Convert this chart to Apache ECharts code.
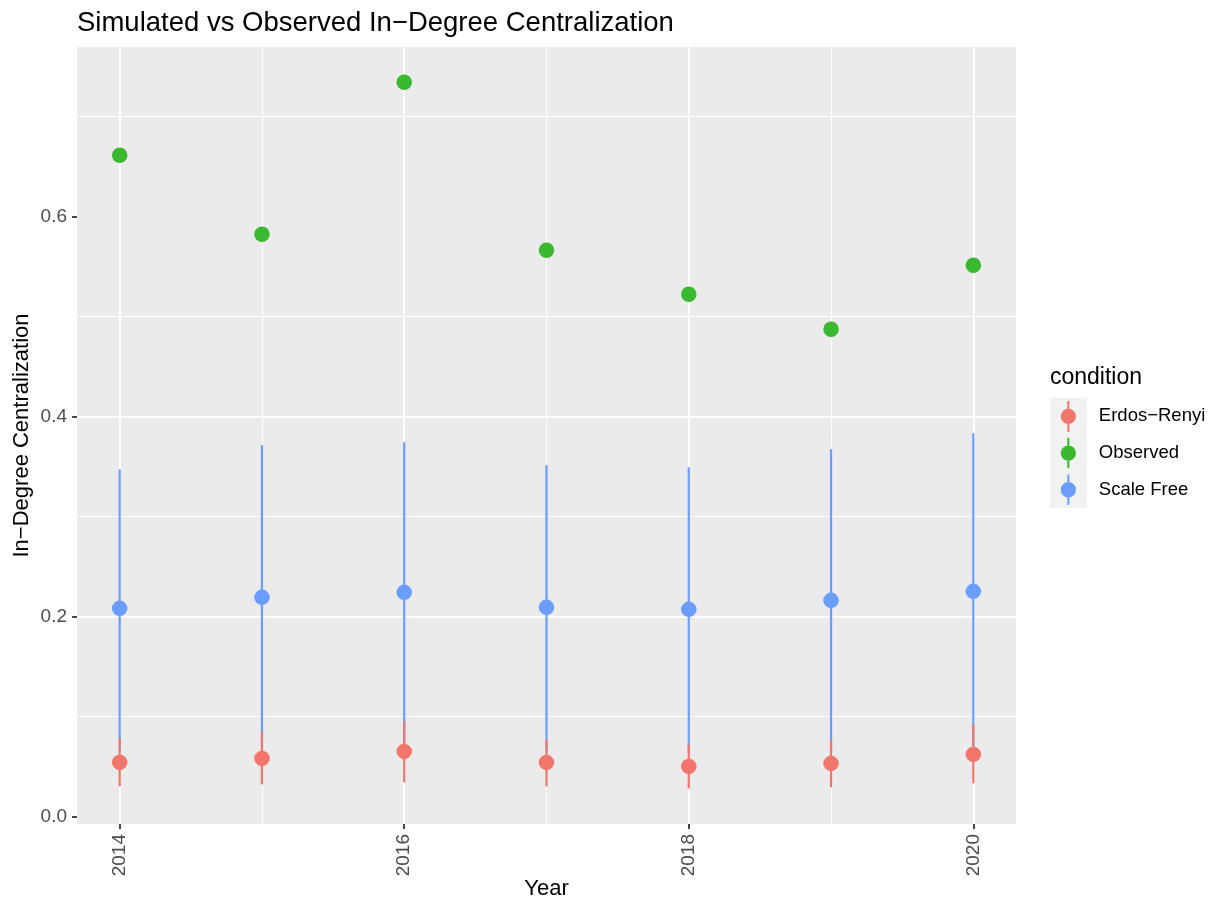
<!DOCTYPE html>
<html>
<head>
<meta charset="utf-8">
<script src="https://cdn.jsdelivr.net/npm/echarts@6/dist/echarts.min.js"></script>
<style>
html,body{margin:0;padding:0;background:#fff;}
#chart{width:1215px;height:903px;}
</style>
</head>
<body>
<div id="chart"></div>
<script>
// ---- data ----
var years = [2014, 2015, 2016, 2017, 2018, 2019, 2020];
var observed = [0.661, 0.582, 0.734, 0.566, 0.522, 0.487, 0.551];
var erMean = [0.054, 0.058, 0.065, 0.054, 0.050, 0.053, 0.062];
var erLow  = [0.030, 0.032, 0.034, 0.030, 0.028, 0.029, 0.033];
var erHigh = [0.078, 0.084, 0.095, 0.077, 0.072, 0.076, 0.092];
var sfMean = [0.208, 0.219, 0.224, 0.209, 0.207, 0.216, 0.225];
var sfLow  = [0.066, 0.068, 0.070, 0.066, 0.064, 0.066, 0.070];
var sfHigh = [0.347, 0.371, 0.374, 0.351, 0.349, 0.367, 0.383];
var xTicks = [2014, 2016, 2018, 2020];
var yTicks = [0, 0.2, 0.4, 0.6];
var conditions = ['Erdos\u2212Renyi', 'Observed', 'Scale Free'];

var colors = {'Erdos\u2212Renyi': '#F2766C', 'Observed': '#3AB82F', 'Scale Free': '#6A9DFF'};
var FONT = '"Liberation Sans", Arial, sans-serif';

function pts(vals) { return years.map(function (y, i) { return [y, vals[i]]; }); }
function ranges(lo, hi) { return years.map(function (y, i) { return [y, lo[i], hi[i]]; }); }

function rangeSeries(name, lo, hi) {
  var c = colors[name];
  return {
    type: 'custom', name: name,
    itemStyle: {color: c},
    data: ranges(lo, hi),
    encode: {x: 0, y: [1, 2]},
    z: 2,
    renderItem: function (params, api) {
      var p1 = api.coord([api.value(0), api.value(1)]);
      var p2 = api.coord([api.value(0), api.value(2)]);
      return {type: 'line', shape: {x1: p1[0], y1: p1[1], x2: p2[0], y2: p2[1]},
              style: {stroke: c, lineWidth: 2.2}};
    }
  };
}
function pointSeries(name, vals) {
  return {
    type: 'scatter', name: name, data: pts(vals),
    symbol: 'circle', symbolSize: 15.5, z: 3,
    itemStyle: {color: colors[name], opacity: 1}
  };
}

var icon = 'path://M0,0Z M36,36Z M17,3 L19,3 L19,10.5 L17,10.5 Z M17,25.5 L19,25.5 L19,33 L17,33 Z M10.5,18 A7.5,7.5 0 1 1 25.5,18 A7.5,7.5 0 1 1 10.5,18 Z';

var chart = echarts.init(document.getElementById('chart'), null, {renderer: 'canvas'});
chart.setOption({
  animation: false,
  backgroundColor: '#ffffff',
  textStyle: {fontFamily: FONT},
  title: [
    {text: 'Simulated vs Observed In\u2212Degree Centralization', left: 72, top: 4,
     textStyle: {fontFamily: FONT, fontSize: 27.5, fontWeight: 'normal', color: '#000'}},
    {text: 'condition', left: 1045, top: 361,
     textStyle: {fontFamily: FONT, fontSize: 23, fontWeight: 'normal', color: '#000'}}
  ],
  graphic: [{type: 'rect', left: 1050, top: 398, shape: {width: 37, height: 110},
             style: {fill: '#F2F2F2'}, z: -1, silent: true}],
  legend: {
    orient: 'vertical', left: 1050, top: 398,
    itemWidth: 37, itemHeight: 36.7, itemGap: 0, padding: 0,
    selectedMode: false,
    textStyle: {fontFamily: FONT, fontSize: 18.5, color: '#000', padding: [0, 0, 0, 7]},
    data: conditions.map(function (n) { return {name: n, icon: icon}; })
  },
  grid: {left: 77, top: 47, right: 199, bottom: 79, show: true,
         backgroundColor: '#EBEBEB', borderWidth: 0, containLabel: false,
         outerBoundsMode: 'none'},
  xAxis: {
    type: 'value', min: 2013.7, max: 2020.3, splitNumber: 3,
    name: 'Year', nameLocation: 'middle', nameGap: 54, nameMoveOverlap: false,
    nameTextStyle: {fontFamily: FONT, fontSize: 22, color: '#000'},
    axisLine: {show: false, onZero: false},
    axisTick: {show: true, length: 5, lineStyle: {color: '#333333', width: 1.8}, customValues: xTicks},
    axisLabel: {rotate: 90, margin: 10, fontSize: 19, color: '#4D4D4D', fontFamily: FONT,
                customValues: xTicks, formatter: function (v) { return String(v); }},
    splitLine: {show: true, showMinLine: true, showMaxLine: true, lineStyle: {color: '#FFFFFF', width: 2}},
    minorTick: {show: false, splitNumber: 2},
    minorSplitLine: {show: true, lineStyle: {color: '#FFFFFF', width: 1}}
  },
  yAxis: {
    type: 'value', min: -0.0076, max: 0.7693, splitNumber: 4,
    name: 'In\u2212Degree Centralization', nameLocation: 'middle', nameGap: 44, nameMoveOverlap: false,
    nameTextStyle: {fontFamily: FONT, fontSize: 22, color: '#000'},
    axisLine: {show: false, onZero: false},
    axisTick: {show: true, length: 5, lineStyle: {color: '#333333', width: 1.8}, customValues: yTicks},
    axisLabel: {margin: 10, fontSize: 19, color: '#4D4D4D', fontFamily: FONT,
                customValues: yTicks, formatter: function (v) { return v.toFixed(1); }},
    splitLine: {show: true, showMinLine: false, showMaxLine: false, lineStyle: {color: '#FFFFFF', width: 2}},
    minorTick: {show: false, splitNumber: 2},
    minorSplitLine: {show: true, lineStyle: {color: '#FFFFFF', width: 1}}
  },
  series: [
    rangeSeries('Scale Free', sfLow, sfHigh),
    rangeSeries('Erdos\u2212Renyi', erLow, erHigh),
    pointSeries('Erdos\u2212Renyi', erMean),
    pointSeries('Observed', observed),
    pointSeries('Scale Free', sfMean)
  ]
});
</script>
</body>
</html>
